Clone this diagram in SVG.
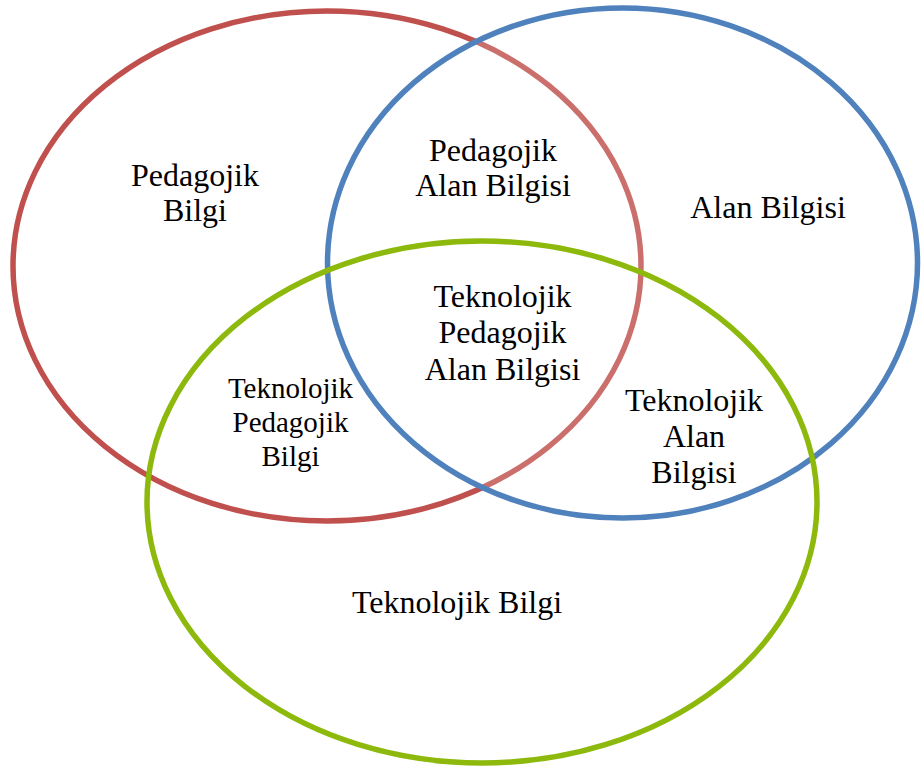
<svg xmlns="http://www.w3.org/2000/svg" width="921" height="772" viewBox="0 0 921 772">
  <style>
    .ring { stroke-width: 5.5; }
    .lbl { font-family: "Liberation Serif", "Times New Roman", serif; font-size: 32px; fill: #000; text-anchor: middle; }
    .sm { font-size: 29px; }
  </style>
  <rect width="921" height="772" fill="#fff"/>

  <g id="sets">
    <g id="pedagogy">
      <ellipse class="ring" cx="327" cy="266" rx="314" ry="255" fill="none" stroke="#C0504D"/>
    </g>
    <g id="content">
      <!-- light white wash over the red ring where the two sets overlap -->
      <ellipse class="ring" cx="622.5" cy="263" rx="295" ry="255" fill="#fff" fill-opacity="0.18" stroke="#4F81BD"/>
    </g>
    <g id="technology">
      <ellipse class="ring" cx="482" cy="502" rx="335" ry="261" fill="none" stroke="#8DB90C"/>
    </g>
  </g>

  <g id="labels">
    <g id="pk">
      <text class="lbl" x="195" y="186">Pedagojik</text>
      <text class="lbl" x="195" y="221">Bilgi</text>
    </g>
    <g id="pck">
      <text class="lbl" x="493" y="161">Pedagojik</text>
      <text class="lbl" x="493" y="196">Alan Bilgisi</text>
    </g>
    <g id="ck">
      <text class="lbl" x="768" y="218">Alan Bilgisi</text>
    </g>
    <g id="tpack">
      <text class="lbl" x="502.5" y="307">Teknolojik</text>
      <text class="lbl" x="502.5" y="343">Pedagojik</text>
      <text class="lbl" x="502.5" y="380">Alan Bilgisi</text>
    </g>
    <g id="tpk">
      <text class="lbl sm" x="290.5" y="398">Teknolojik</text>
      <text class="lbl sm" x="290.5" y="432">Pedagojik</text>
      <text class="lbl sm" x="290.5" y="466">Bilgi</text>
    </g>
    <g id="tck">
      <text class="lbl" x="694" y="411">Teknolojik</text>
      <text class="lbl" x="694" y="447">Alan</text>
      <text class="lbl" x="694" y="483">Bilgisi</text>
    </g>
    <g id="tk">
      <text class="lbl" x="457" y="613">Teknolojik Bilgi</text>
    </g>
  </g>
</svg>
